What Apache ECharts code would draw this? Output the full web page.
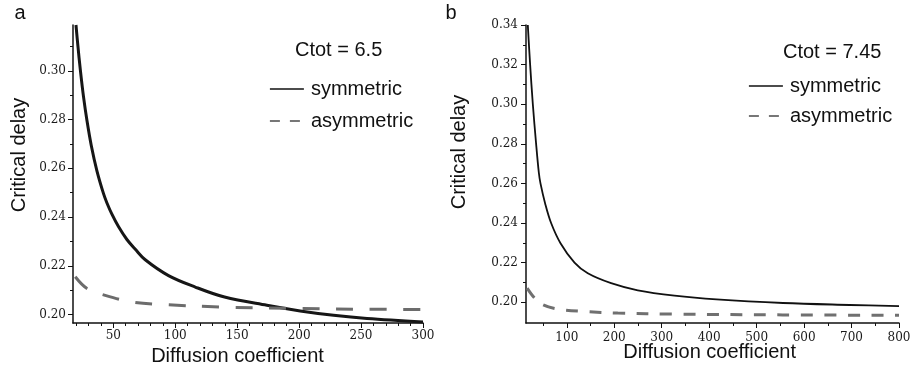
<!DOCTYPE html>
<html>
<head>
<meta charset="utf-8">
<script src="https://cdn.jsdelivr.net/npm/echarts@6/dist/echarts.min.js"></script>
<style>html,body{margin:0;padding:0;background:#fff;}#c{width:911px;height:372px;}</style>
</head>
<body>
<div id="c"></div>
<script>
// ---- Panel a (Ctot = 6.5) ----
const symA_x = [19.9, 21.5, 23.4, 26.0, 28.8, 32.2, 36.8, 42.2, 44.9, 48.9, 54.3, 61, 67.8, 75.8, 94.6, 116.2, 139.8, 174, 200.9, 227.8, 254.8, 300];
const symA_y = [0.3188, 0.3100, 0.3005, 0.2893, 0.2795, 0.2695, 0.2590, 0.2495, 0.2458, 0.2412, 0.2360, 0.2308, 0.2268, 0.2225, 0.2160, 0.2113, 0.2072, 0.2038, 0.2015, 0.1997, 0.1984, 0.1970];
const asymA_x = [19.3, 28.8, 43.5, 65.1, 92, 137.7, 201, 250, 300];
const asymA_y = [0.2155, 0.2107, 0.2079, 0.2052, 0.2041, 0.2031, 0.2025, 0.2022, 0.2021];
const xTicksA = [50, 100, 150, 200, 250, 300];
const xMinorA = [20, 30, 40, 60, 70, 80, 90, 110, 120, 130, 140, 160, 170, 180, 190, 210, 220, 230, 240, 260, 270, 280, 290];
const yTicksA = [0.20, 0.22, 0.24, 0.26, 0.28, 0.30];
const yMinorA = [0.21, 0.23, 0.25, 0.27, 0.29, 0.31];

// ---- Panel b (Ctot = 7.45) ----
const symB_x = [17.8, 22.7, 28.4, 35.3, 41, 44.5, 54.3, 66.9, 86.7, 116.2, 144.2, 193.3, 249.6, 326.9, 415.4, 555.6, 696, 800];
const symB_y = [0.340, 0.320, 0.300, 0.280, 0.2655, 0.260, 0.2499, 0.240, 0.2298, 0.220, 0.2146, 0.2096, 0.2060, 0.2033, 0.2014, 0.1996, 0.1986, 0.1980];
const asymB_x = [16.4, 32, 49.5, 81, 137, 207.4, 327, 555, 800];
const asymB_y = [0.2071, 0.2021, 0.1987, 0.1965, 0.1953, 0.1945, 0.1940, 0.1936, 0.1934];
const xTicksB = [100, 200, 300, 400, 500, 600, 700, 800];
const xMinorB = [50, 150, 250, 350, 450, 550, 650, 750];
const yTicksB = [0.20, 0.22, 0.24, 0.26, 0.28, 0.30, 0.32, 0.34];
const yMinorB = [0.21, 0.23, 0.25, 0.27, 0.29, 0.31, 0.33];

const seriesNames = ['symmetric', 'asymmetric'];
const ctotLabels = ['Ctot = 6.5', 'Ctot = 7.45'];
const panelLabels = ['a', 'b'];
const xTitle = 'Diffusion coefficient';
const yTitle = 'Critical delay';

const zip = (xs, ys) => xs.map((x, i) => [x, ys[i]]);

const SANS = 'Liberation Sans, Arial, sans-serif';
const SERIF = 'DejaVu Serif, serif';
const AX = '#111';

function mainAxis(gridIndex, min, max, ticks, pos, margin, isY) {
  return {
    type: 'value', gridIndex, min, max, position: pos,
    axisLine: { show: true, lineStyle: { color: AX, width: 1.5 } },
    axisTick: { show: true, customValues: ticks, length: 5, inside: false, lineStyle: { color: AX, width: 1 } },
    axisLabel: {
      show: true, customValues: ticks, margin, fontFamily: SERIF, fontSize: 12, color: '#1a1a1a',
      formatter: isY ? (v => v.toFixed(2)) : (v => String(Math.round(v)))
    },
    splitLine: { show: false }
  };
}
function minorAxis(gridIndex, min, max, ticks, pos) {
  return {
    type: 'value', gridIndex, min, max, position: pos,
    axisLine: { show: false },
    axisTick: { show: true, customValues: ticks, length: 3, inside: false, lineStyle: { color: AX, width: 1 } },
    axisLabel: { show: false },
    splitLine: { show: false }
  };
}
function legendFor(left, top, gap) {
  return {
    orient: 'vertical', left, top, itemWidth: 34, itemHeight: 14, itemGap: gap,
    selectedMode: false, padding: 0,
    itemStyle: { opacity: 0, color: 'rgba(0,0,0,0)', borderWidth: 0 },
    textStyle: { fontFamily: SANS, fontSize: 20, color: '#111', padding: [0, 0, 0, 2] },
    data: [
      { name: seriesNames[0], itemStyle: { opacity: 0, color: 'rgba(0,0,0,0)', borderWidth: 0 }, lineStyle: { color: '#111', width: 1.6, type: 'solid', opacity: 1 } },
      { name: seriesNames[1], itemStyle: { opacity: 0, color: 'rgba(0,0,0,0)', borderWidth: 0 }, lineStyle: { color: '#777', width: 1.8, type: [10, 10], opacity: 1 } }
    ]
  };
}

const option = {
  animation: false,
  backgroundColor: '#fff',
  grid: [
    { left: 73, top: 25, width: 350, height: 298, containLabel: false, outerBoundsMode: 'none' },
    { left: 526, top: 25, width: 373, height: 298, containLabel: false, outerBoundsMode: 'none' }
  ],
  xAxis: [
    mainAxis(0, 17.5, 300, xTicksA, 'bottom', 7, false),
    minorAxis(0, 17.5, 300, xMinorA, 'bottom'),
    mainAxis(1, 14, 800, xTicksB, 'bottom', 9, false),
    minorAxis(1, 14, 800, xMinorB, 'bottom')
  ],
  yAxis: [
    mainAxis(0, 0.19655, 0.3188, yTicksA, 'left', 7, true),
    minorAxis(0, 0.19655, 0.3188, yMinorA, 'left'),
    mainAxis(1, 0.1895, 0.34, yTicksB, 'left', 8, true),
    minorAxis(1, 0.1895, 0.34, yMinorB, 'left')
  ],
  legend: [legendFor(269, 79, 12), legendFor(748, 76, 10)],
  graphic: [
    { type: 'text', x: 20, y: 13, style: { text: panelLabels[0], font: '20px ' + SANS, fill: '#111', textAlign: 'center', textVerticalAlign: 'middle' } },
    { type: 'text', x: 451, y: 13, style: { text: panelLabels[1], font: '20px ' + SANS, fill: '#111', textAlign: 'center', textVerticalAlign: 'middle' } },
    { type: 'text', x: 295, y: 50.5, style: { text: ctotLabels[0], font: '20px ' + SANS, fill: '#111', textAlign: 'left', textVerticalAlign: 'middle' } },
    { type: 'text', x: 783, y: 52.5, style: { text: ctotLabels[1], font: '20px ' + SANS, fill: '#111', textAlign: 'left', textVerticalAlign: 'middle' } },
    { type: 'text', x: 237.5, y: 356, style: { text: xTitle, font: '20px ' + SANS, fill: '#111', textAlign: 'center', textVerticalAlign: 'middle' } },
    { type: 'text', x: 709.7, y: 352, style: { text: xTitle, font: '20px ' + SANS, fill: '#111', textAlign: 'center', textVerticalAlign: 'middle' } },
    { type: 'text', x: 19.3, y: 155, rotation: Math.PI / 2, style: { text: yTitle, font: '20px ' + SANS, fill: '#111', textAlign: 'center', textVerticalAlign: 'middle' } },
    { type: 'text', x: 459, y: 152, rotation: Math.PI / 2, style: { text: yTitle, font: '20px ' + SANS, fill: '#111', textAlign: 'center', textVerticalAlign: 'middle' } }
  ],
  series: [
    { type: 'line', name: seriesNames[0], xAxisIndex: 0, yAxisIndex: 0, data: zip(symA_x, symA_y), symbol: 'none', smooth: 0.35, clip: true, silent: true,
      lineStyle: { color: '#161616', width: 3 } },
    { type: 'line', name: seriesNames[1], xAxisIndex: 0, yAxisIndex: 0, data: zip(asymA_x, asymA_y), symbol: 'none', smooth: 0.35, clip: true, silent: true,
      lineStyle: { color: '#6c6c6c', width: 3, type: [17, 16.5] } },
    { type: 'line', name: seriesNames[0], xAxisIndex: 2, yAxisIndex: 2, data: zip(symB_x, symB_y), symbol: 'none', smooth: 0.35, clip: true, silent: true,
      lineStyle: { color: '#111', width: 1.8 } },
    { type: 'line', name: seriesNames[1], xAxisIndex: 2, yAxisIndex: 2, data: zip(asymB_x, asymB_y), symbol: 'none', smooth: 0.35, clip: true, silent: true,
      lineStyle: { color: '#707070', width: 3, type: [12, 11.5] } }
  ]
};

const chart = echarts.init(document.getElementById('c'), null, { renderer: 'canvas' });
chart.setOption(option);
</script>
</body>
</html>
